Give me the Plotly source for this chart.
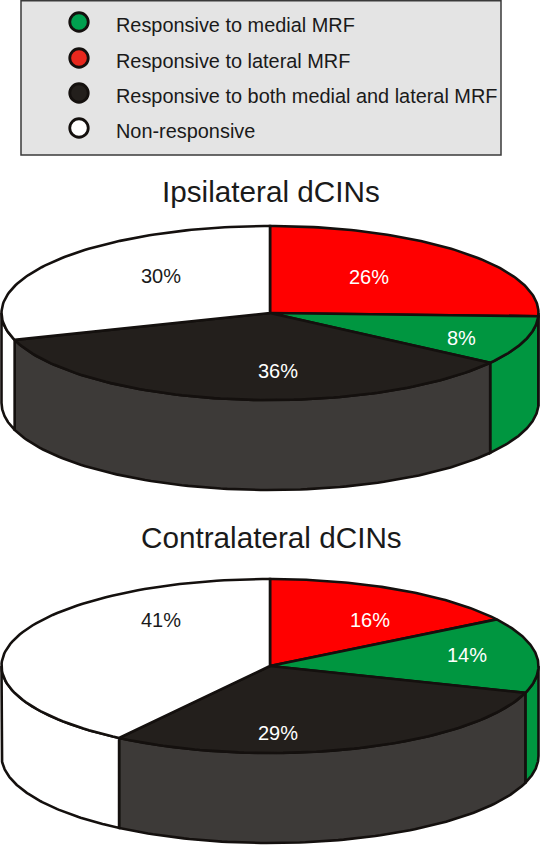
import numpy as np
import plotly.graph_objects as go

CATEGORIES = ["Responsive to medial MRF", "Responsive to lateral MRF",
              "Responsive to both medial and lateral MRF", "Non-responsive"]
# slice order clockwise from 12 o'clock
SLICE_ORDER = ["lateral", "medial", "both", "none"]
IPSI_VALUES = [25.6, 9.1, 35.3, 30]
CONTRA_VALUES = [16, 14, 29.5, 40.5]
IPSI_LABELS = ["26%", "8%", "36%", "30%"]
CONTRA_LABELS = ["16%", "14%", "29%", "41%"]

TOP = {"lateral": "#ff0000", "medial": "#009640", "both": "#231f1c", "none": "#ffffff"}
SIDE = {"lateral": "#ff0000", "medial": "#009640", "both": "#3d3a38", "none": "#ffffff"}
LEGEND_COL = ["#00a04f", "#e8281e", "#231f1c", "#ffffff"]
LINE = "#14100e"
RX, RY, DEPTH, CX = 268.5, 87, 90, 270

fig = go.Figure()

def arc(a, b, cy, n=90):
    t = np.radians(np.linspace(a, b, n))
    return CX + RX * np.sin(t), cy + RY * (-np.cos(t))

def poly(x, y, color, name):
    fig.add_trace(go.Scatter(x=list(x), y=list(y), mode="lines", fill="toself",
                             fillcolor=color, name=name, hoverinfo="skip",
                             line=dict(color=LINE, width=2.6, shape="linear")))

def pie(values, cy, title, labels, label_xy, title_y):
    edges = np.concatenate([[0], np.cumsum(values) / np.sum(values) * 360])
    # side walls: only the front half (90..270 deg) is visible
    for key, a, b in zip(SLICE_ORDER, edges[:-1], edges[1:]):
        lo, hi = max(a, 90), min(b, 270)
        if hi > lo:
            x1, y1 = arc(lo, hi, cy)
            x2, y2 = arc(hi, lo, cy + DEPTH)
            poly(np.r_[x1, x2, x1[0]], np.r_[y1, y2, y1[0]], SIDE[key], key + " side")
    # top faces
    for key, a, b in zip(SLICE_ORDER, edges[:-1], edges[1:]):
        x, y = arc(a, b, cy)
        poly(np.r_[CX, x, CX], np.r_[cy, y, cy], TOP[key], key)
    for key, text, (lx, ly) in zip(SLICE_ORDER, labels, label_xy):
        fig.add_annotation(x=lx, y=ly, text=text, showarrow=False,
                           font=dict(size=20, color="#1a1a1a" if key == "none" else "#ffffff"))
    fig.add_annotation(x=271, y=title_y, text=title, showarrow=False,
                       font=dict(size=29.7, color="#1a1a1a"))

pie(IPSI_VALUES, 313, "Ipsilateral dCINs", IPSI_LABELS,
    [(369, 277), (461, 338), (278, 371), (161, 276)], 191)
pie(CONTRA_VALUES, 666, "Contralateral dCINs", CONTRA_LABELS,
    [(370, 620), (467, 655), (278, 733), (161, 620)], 537)

# legend box
fig.add_shape(type="rect", x0=21, x1=501, y0=0.7, y1=155, layer="below",
              fillcolor="#e4e4e4", line=dict(color="#3a3a3a", width=1.5))
LEG_Y = [22, 58, 93, 128]
fig.add_trace(go.Scatter(x=[79] * 4, y=LEG_Y, mode="markers", hoverinfo="skip", name="legend",
                         marker=dict(size=18.5, color=LEGEND_COL,
                                     line=dict(color=LINE, width=2.8))))
for cat, ly in zip(CATEGORIES, LEG_Y):
    fig.add_annotation(x=114, y=ly + 2.5, text=cat, showarrow=False, xanchor="left",
                       font=dict(size=19.9, color="#1a1a1a"))

fig.update_layout(width=540, height=852, margin=dict(l=0, r=0, t=0, b=0),
                  showlegend=False, paper_bgcolor="#ffffff", plot_bgcolor="#ffffff",
                  font=dict(family="Liberation Sans, Arial, sans-serif"),
                  xaxis=dict(range=[0, 540], visible=False, fixedrange=True),
                  yaxis=dict(range=[852, 0], visible=False, fixedrange=True))
fig.write_html("out.html", config={"displayModeBar": False},
               post_script="document.body.style.margin='0';")
